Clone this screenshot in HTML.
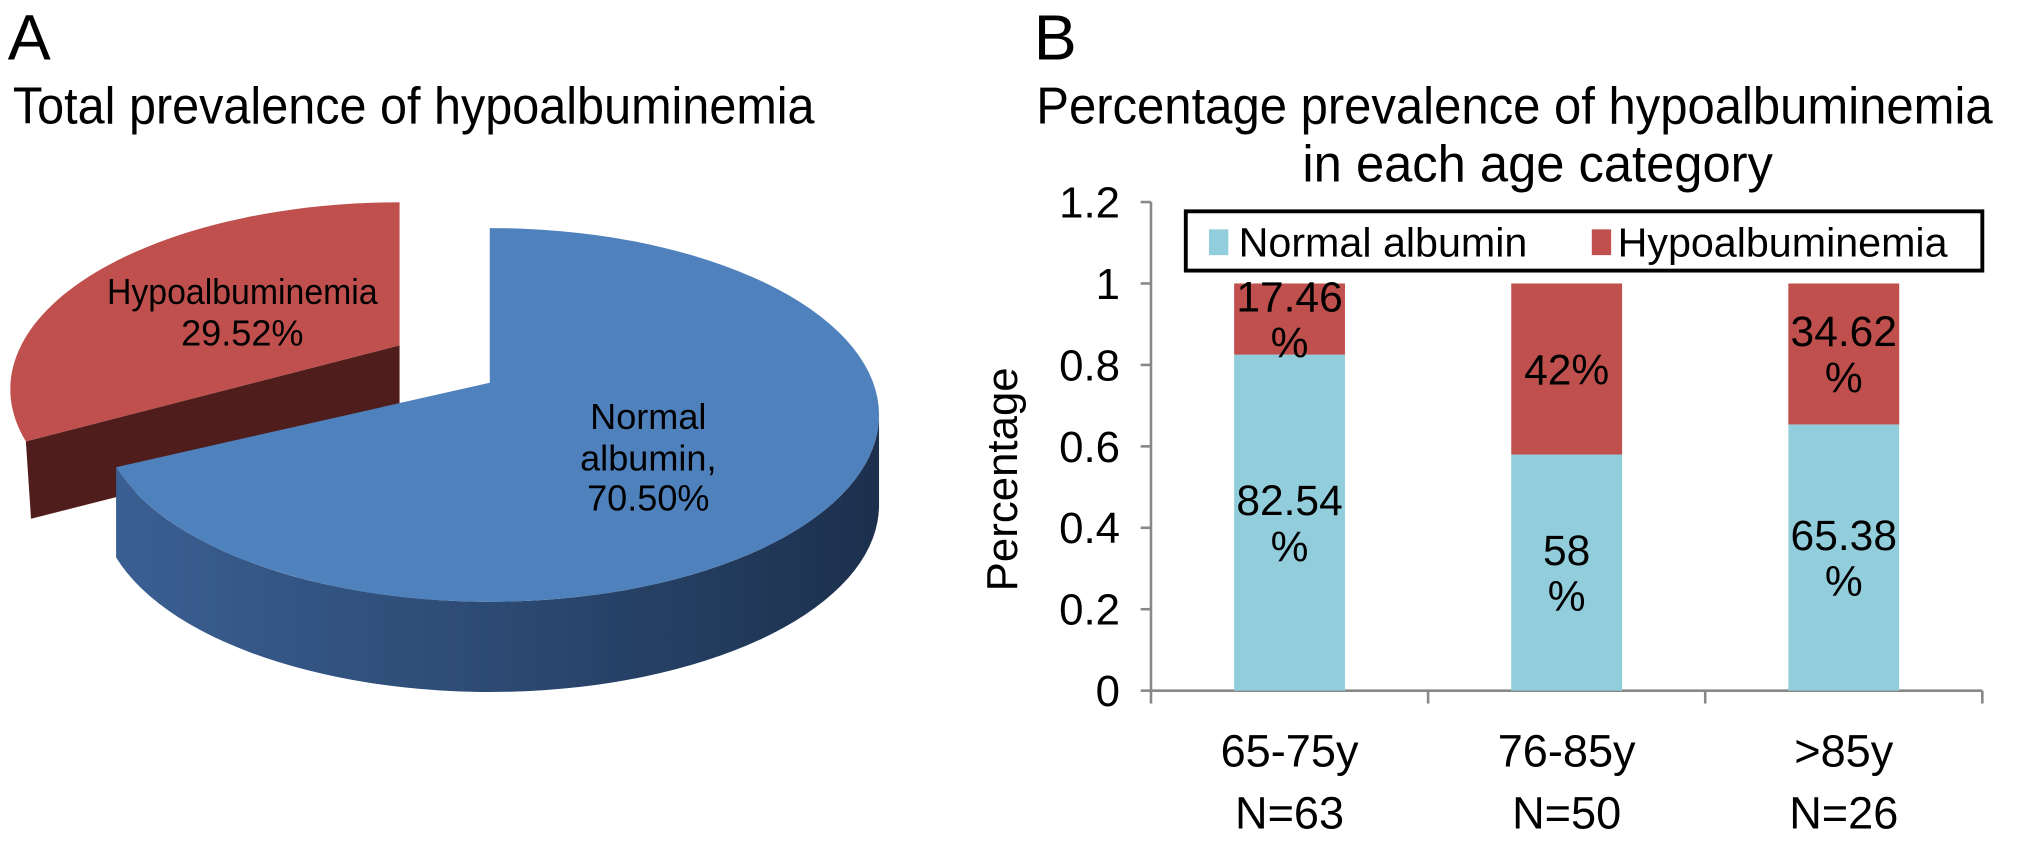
<!DOCTYPE html>
<html><head><meta charset="utf-8"><style>
html,body{margin:0;padding:0;background:#fff;}
svg{display:block;font-family:"Liberation Sans",Arial,sans-serif;}
</style></head><body>
<svg id="fig" width="2021" height="844" viewBox="0 0 1568 655" preserveAspectRatio="none">
<defs>
<linearGradient id="blueSide" x1="0" x2="1" y1="0" y2="0">
<stop offset="0" stop-color="#3a5f92"/><stop offset="0.5" stop-color="#2c4a73"/><stop offset="1" stop-color="#1c304d"/>
</linearGradient>
</defs>
<text x="6" y="46" font-size="50">A</text>
<text x="802" y="46" font-size="50">B</text>
<text x="10" y="96" font-size="40" textLength="622" lengthAdjust="spacingAndGlyphs">Total prevalence of hypoalbuminemia</text>
<g id="pie"></g>
<text x="1175" y="96" font-size="40" text-anchor="middle" textLength="742" lengthAdjust="spacingAndGlyphs">Percentage prevalence of hypoalbuminemia</text>
<text x="1193" y="141" font-size="40" text-anchor="middle" textLength="365" lengthAdjust="spacingAndGlyphs">in each age category</text>
<g id="bars"></g>
</svg>
<script>
// Pie data
const pieLabels = ["Hypoalbuminemia", "Normal albumin"];
const pieValues = [29.52, 70.50];

// Bar data
const categories = ["65-75y", "76-85y", ">85y"];
const categoryN = ["N=63", "N=50", "N=26"];
const normalValues = [0.8254, 0.58, 0.6538];
const hypoValues = [0.1746, 0.42, 0.3462];
const normalLabels = [["82.54","%"], ["58","%"], ["65.38","%"]];
const hypoLabels = [["17.46","%"], ["42%"], ["34.62","%"]];
const yTicks = [0, 0.2, 0.4, 0.6, 0.8, 1, 1.2];
const yTickLabels = ["0", "0.2", "0.4", "0.6", "0.8", "1", "1.2"];

const NS = "http://www.w3.org/2000/svg";
function mk(tag, attrs, parent, txt) {
  const e = document.createElementNS(NS, tag);
  for (const k in attrs) e.setAttribute(k, attrs[k]);
  if (txt !== undefined) e.textContent = txt;
  parent.appendChild(e);
  return e;
}

// ---------- Pie ----------
(function () {
  const g = document.getElementById("pie");
  const total = pieValues.reduce((a, b) => a + b, 0);
  const cx = 380, cy = 322, rx = 302, ry = 145, depth = 70;
  const startDeg = -90;
  const blueSweep = pieValues[1] / total * 360;
  function pt(deg, ox, oy) {
    const r = deg * Math.PI / 180;
    return [cx + ox + rx * Math.cos(r), cy + oy + ry * Math.sin(r)];
  }
  const centerB = [cx, 297];
  const a0 = startDeg, a1 = startDeg + blueSweep;
  const p0 = pt(a0, 0, 0), p1 = pt(a1, 0, 0);
  const sideStart = 0, sideEnd = Math.min(180, a1);
  const s0 = pt(sideStart, 0, 0), s1 = pt(sideEnd, 0, 0);
  let side = mk("path", {
    d: `M${s0[0]},${s0[1]} A${rx},${ry} 0 0 1 ${s1[0]},${s1[1]} L${s1[0]},${s1[1] + depth} A${rx},${ry} 0 0 0 ${s0[0]},${s0[1] + depth} Z`,
    fill: "url(#blueSide)"
  }, g);
  
  
  let top = mk("path", {
    d: `M${centerB[0]},${centerB[1]} L${p0[0]},${p0[1]} A${rx},${ry} 0 ${blueSweep > 180 ? 1 : 0} 1 ${p1[0]},${p1[1]} Z`,
    fill: "#4f81bd"
  }, g);
  
  

  const ox = -70, oy = -20;
  const rSweep = pieValues[0] / total * 360;
  const r0 = pt(a1, ox, oy), r1 = pt(a1 + rSweep, ox, oy);
  const rc = [centerB[0] + ox, centerB[1] + oy - 9];
  let rside = mk("path", {
    d: `M${r0[0]},${r0[1]} L${rc[0]},${rc[1]} L${rc[0]},${rc[1] + 62} L${r0[0] + 4},${r0[1] + 60} Z`,
    fill: "#4f1d1b"
  }, g);
  
  
  let rtop = mk("path", {
    d: `M${rc[0]},${rc[1]} L${r0[0]},${r0[1]} A${rx},${ry} 0 ${rSweep > 180 ? 1 : 0} 1 ${r1[0]},${r1[1]} Z`,
    fill: "#c0504d"
  }, g);
  
  
  g.appendChild(side); g.appendChild(top);

  const lab = [
    [188, 236, pieLabels[0], 210], [188, 268, pieValues[0].toFixed(2) + "%", 0],
    [503, 333, "Normal", 0], [503, 365, "albumin,", 0], [503, 396, pieValues[1].toFixed(2) + "%", 0]
  ];
  lab.forEach((l, i) => {
    const attrs = { x: l[0], y: l[1], "font-size": 28, "text-anchor": "middle" };
    if (l[3]) { attrs.textLength = l[3]; attrs.lengthAdjust = "spacingAndGlyphs"; }
    const t = mk("text", attrs, g, l[2]);
    
    
  });
})();

// ---------- Bars ----------
(function () {
  const g = document.getElementById("bars");
  const x0 = 893, catW = 215, y0 = 536, yScale = 316, barW = 86;
  const y = v => y0 - v * yScale;
  const xc = i => x0 + catW * (i + 0.5);

  let ax = mk("line", { x1: x0, y1: y(1.2), x2: x0, y2: y0, stroke: "#888", "stroke-width": 2 }, g);
   
  let xa = mk("line", { x1: x0, y1: y0, x2: x0 + catW * categories.length, y2: y0, stroke: "#888", "stroke-width": 2 }, g);
   
  for (let i = 0; i <= categories.length; i++) {
    const t = mk("line", { x1: x0 + catW * i, y1: y0, x2: x0 + catW * i, y2: y0 + 10, stroke: "#888", "stroke-width": 2 }, g);
     
  }
  yTicks.forEach((v, i) => {
    const t = mk("line", { x1: x0 - 8, y1: y(v), x2: x0, y2: y(v), stroke: "#888", "stroke-width": 2 }, g);
     
    const l = mk("text", { x: x0 - 24, y: y(v) + 12, "font-size": 34, "text-anchor": "end" }, g, yTickLabels[i]);
     
  });
  const yt = mk("text", { x: 0, y: 0, "font-size": 34, "text-anchor": "middle", transform: `translate(789,372) rotate(-90)` }, g, "Percentage");
   

  categories.forEach((c, i) => {
    const bx = xc(i) - barW / 2;
    const n = mk("rect", { x: bx, y: y(normalValues[i]), width: barW, height: normalValues[i] * yScale, fill: "#92cddc" }, g);
     
    const h = mk("rect", { x: bx, y: y(normalValues[i] + hypoValues[i]), width: barW, height: hypoValues[i] * yScale, fill: "#c0504d" }, g);
     

    const segs = [[normalValues[i] / 2, normalLabels[i]], [normalValues[i] + hypoValues[i] / 2, hypoLabels[i]]];
    segs.forEach((s, k) => {
      const cy = y(s[0]);
      const lines = s[1];
      const lh = 36;
      const start = cy - (lines.length - 1) * lh / 2 + 12;
      lines.forEach((ln, j) => {
        const t = mk("text", { x: xc(i), y: start + j * lh, "font-size": 33, "text-anchor": "middle" }, g, ln);
        
        
      });
    });
    const cl = mk("text", { x: xc(i), y: 595, "font-size": 35, "text-anchor": "middle" }, g, c);
     
    const nl = mk("text", { x: xc(i), y: 643, "font-size": 35, "text-anchor": "middle" }, g, categoryN[i]);
     
  });

  const lg = mk("g", {}, g);
   
  const box = mk("rect", { x: 920, y: 164, width: 618, height: 46, fill: "#fff", stroke: "#000", "stroke-width": 3 }, lg);
   
  const s1 = mk("rect", { x: 938, y: 178, width: 15, height: 20, fill: "#92cddc" }, lg);
   
  const t1 = mk("text", { x: 961, y: 199, "font-size": 32, textLength: 224, lengthAdjust: "spacingAndGlyphs" }, lg, "Normal albumin");
   
  const s2 = mk("rect", { x: 1235, y: 178, width: 15, height: 20, fill: "#c0504d" }, lg);
   
  const t2 = mk("text", { x: 1255, y: 199, "font-size": 32, textLength: 256, lengthAdjust: "spacingAndGlyphs" }, lg, "Hypoalbuminemia");
   
})();
</script>
</body></html>
